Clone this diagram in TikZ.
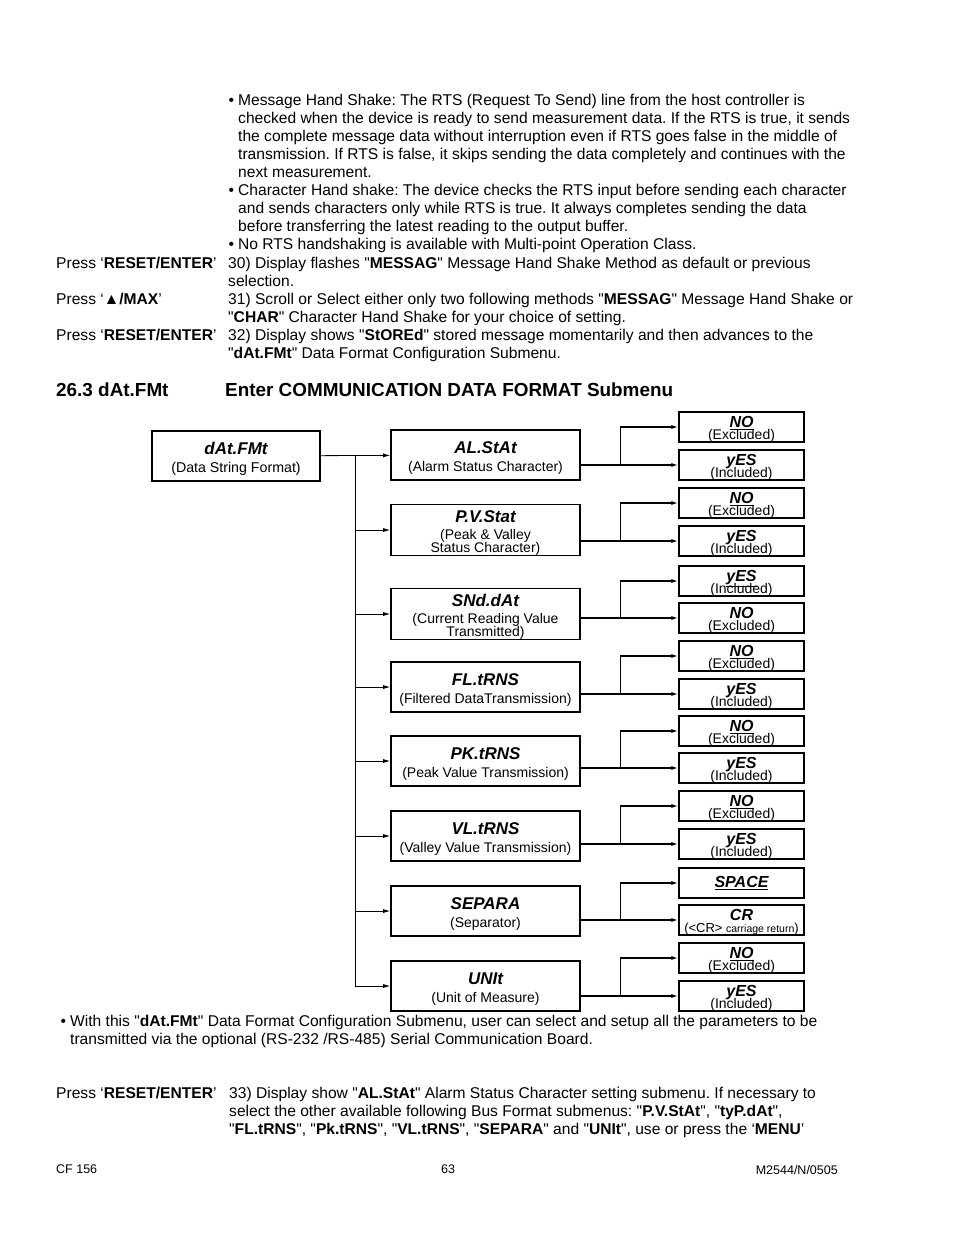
\documentclass[tikz,border=0pt]{standalone}
\usepackage{fontspec}
\setmainfont{Liberation Sans}[Ligatures=TeXOff]
\usetikzlibrary{arrows.meta}
\frenchspacing

\newcommand{\menutitle}[1]{{\fontsize{17}{17}\selectfont\bfseries\itshape\rule{0pt}{18.4pt}#1}}
\newcommand{\opttitle}[1]{{\fontsize{16}{13}\selectfont\bfseries\itshape\rule{0pt}{15.5pt}#1}}
\newcommand{\tightlines}{\setlength{\lineskiplimit}{-100pt}}

\begin{document}
\begin{tikzpicture}[x=1pt,y=-1pt,
  bodytext/.style={anchor=north west,inner sep=0pt,align=left,font=\fontsize{15.6}{18}\selectfont},
  headtext/.style={anchor=north west,inner sep=0pt,font=\fontsize{18.9}{20}\selectfont\bfseries},
  foottext/.style={inner sep=0pt,font=\fontsize{12.5}{14}\selectfont},
  rootbox/.style={draw,line width=1.6pt,minimum width=168pt,minimum height=50pt,inner sep=0pt,align=center,font=\fontsize{14.2}{18}\selectfont},
  menubox/.style={draw,line width=1.6pt,minimum width=189pt,minimum height=50pt,inner sep=0pt,align=center,font=\fontsize{14}{18}\selectfont},
  optbox/.style={draw,line width=1.2pt,minimum width=125pt,minimum height=30pt,inner sep=0pt,align=center,font=\fontsize{14}{11.5}\selectfont\tightlines},
  feed/.style={-{Latex[length=7pt,width=4pt]},line width=0.8pt},
  outfeed/.style={-{Latex[length=7pt,width=4pt]},line width=1.6pt}]
\useasboundingbox[fill=white] (0,0) rectangle (954,1235);

% text above the chart
\node[bodytext] (handshake) at (238,94) {\llap{•\hspace{4pt}}Message Hand Shake: The RTS (Request To Send) line from the host controller is\\
checked when the device is ready to send measurement data. If the RTS is true, it sends\\
the complete message data without interruption even if RTS goes false in the middle of\\
transmission. If RTS is false, it skips sending the data completely and continues with the\\
next measurement.\\
\llap{•\hspace{4pt}}Character Hand shake: The device checks the RTS input before sending each character\\
and sends characters only while RTS is true. It always completes sending the data\\
before transferring the latest reading to the output buffer.\\
\llap{•\hspace{4pt}}No RTS handshaking is available with Multi-point Operation Class.};
\node[bodytext] (press30) at (56,257) {Press ‘\textbf{RESET/ENTER}’};
\node[bodytext] (press31) at (56,293) {Press ‘\textbf{▲/MAX}’};
\node[bodytext] (press32) at (56,329) {Press ‘\textbf{RESET/ENTER}’};
\node[bodytext] (steps) at (228,257) {30) Display flashes "\textbf{MESSAG}" Message Hand Shake Method as default or previous\\
selection.\\
31) Scroll or Select either only two following methods "\textbf{MESSAG}" Message Hand Shake or\\
"\textbf{CHAR}" Character Hand Shake for your choice of setting.\\
32) Display shows "\textbf{StOREd}" stored message momentarily and then advances to the\\
"\textbf{dAt.FMt}" Data Format Configuration Submenu.};
\node[headtext] (secnum) at (56,383) {26.3 dAt.FMt};
\node[headtext] (sectitle) at (225,383) {Enter COMMUNICATION DATA FORMAT Submenu};

% chart
\node[rootbox] (root) at (236,456) {\menutitle{dAt.FMt}\\(Data String Format)};

\node[menubox] (alstat) at (485.5,455) {\menutitle{AL.StAt}\\(Alarm Status Character)};
\node[menubox] (pvstat) at (485.5,530) {\menutitle{P.V.Stat}\\[-1pt](Peak \& Valley\\[-5pt]Status Character)};
\node[menubox] (snddat) at (485.5,614) {\menutitle{SNd.dAt}\\[-1pt](Current Reading Value\\[-5pt]Transmitted)};
\node[menubox] (fltrns) at (485.5,687) {\menutitle{FL.tRNS}\\(Filtered DataTransmission)};
\node[menubox] (pktrns) at (485.5,761) {\menutitle{PK.tRNS}\\(Peak Value Transmission)};
\node[menubox] (vltrns) at (485.5,836) {\menutitle{VL.tRNS}\\(Valley Value Transmission)};
\node[menubox] (separa) at (485.5,911) {\menutitle{SEPARA}\\(Separator)};
\node[menubox] (unit) at (485.5,986) {\menutitle{UNIt}\\(Unit of Measure)};

\node[optbox] (alstat-a) at (741.5,427) {\opttitle{\underline{NO}}\\(Excluded)};
\node[optbox] (alstat-b) at (741.5,465) {\opttitle{yES}\\(Included)};
\node[optbox] (pvstat-a) at (741.5,503) {\opttitle{\underline{NO}}\\(Excluded)};
\node[optbox] (pvstat-b) at (741.5,541) {\opttitle{yES}\\(Included)};
\node[optbox] (snddat-a) at (741.5,581) {\opttitle{\underline{yES}}\\(Included)};
\node[optbox] (snddat-b) at (741.5,618) {\opttitle{NO}\\(Excluded)};
\node[optbox] (fltrns-a) at (741.5,656) {\opttitle{\underline{NO}}\\(Excluded)};
\node[optbox] (fltrns-b) at (741.5,694) {\opttitle{yES}\\(Included)};
\node[optbox] (pktrns-a) at (741.5,731) {\opttitle{\underline{NO}}\\(Excluded)};
\node[optbox] (pktrns-b) at (741.5,768) {\opttitle{yES}\\(Included)};
\node[optbox] (vltrns-a) at (741.5,806) {\opttitle{\underline{NO}}\\(Excluded)};
\node[optbox] (vltrns-b) at (741.5,844) {\opttitle{yES}\\(Included)};
\node[optbox] (separa-a) at (741.5,883) {{\fontsize{16}{13}\selectfont\bfseries\itshape\underline{SPACE}}};
\node[optbox] (separa-b) at (741.5,920) {\opttitle{CR}\\{\fontsize{13}{11.5}\selectfont(<CR> {\fontsize{10.5}{11.5}\selectfont carriage return})}};
\node[optbox] (unit-a) at (741.5,958) {\opttitle{\underline{NO}}\\(Excluded)};
\node[optbox] (unit-b) at (741.5,996) {\opttitle{yES}\\(Included)};

\coordinate (trunk) at (355,456);
\draw[feed] (root) -- (alstat);
\draw[line width=0.8pt] (trunk) -- (trunk |- unit.west);
\foreach \m in {pvstat,snddat,fltrns,pktrns,vltrns,separa,unit}
  \draw[feed] (trunk |- \m.west) -- (\m.west);
\foreach \m in {alstat,pvstat,snddat,fltrns,pktrns,vltrns,separa,unit} {
  \draw[outfeed] (\m.east |- \m-b.west) -- (\m-b.west);
  \draw[outfeed] ([xshift=-58pt]\m-b.west) |- (\m-a.west);
}

% text below the chart
\node[bodytext] (summary) at (70,1015) {\llap{•\hspace{4pt}}With this "\textbf{dAt.FMt}" Data Format Configuration Submenu, user can select and setup all the parameters to be\\
transmitted via the optional (RS-232 /RS-485) Serial Communication Board.};
\node[bodytext] (press33) at (56,1087) {Press ‘\textbf{RESET/ENTER}’};
\node[bodytext] (step33) at (229,1087) {33) Display show "\textbf{AL.StAt}" Alarm Status Character setting submenu. If necessary to\\
select the other available following Bus Format submenus: "\textbf{P.V.StAt}", "\textbf{tyP.dAt}",\\
"\textbf{FL.tRNS}", "\textbf{Pk.tRNS}", "\textbf{VL.tRNS}", "\textbf{SEPARA}" and "\textbf{UNIt}", use or press the ‘\textbf{MENU}’};
\node[foottext,anchor=north west] (model) at (56,1165) {CF 156};
\node[foottext,anchor=north] (page) at (448,1165) {63};
\node[foottext,anchor=north east] (docnum) at (838,1165) {M2544/N/0505};
\end{tikzpicture}
\end{document}
